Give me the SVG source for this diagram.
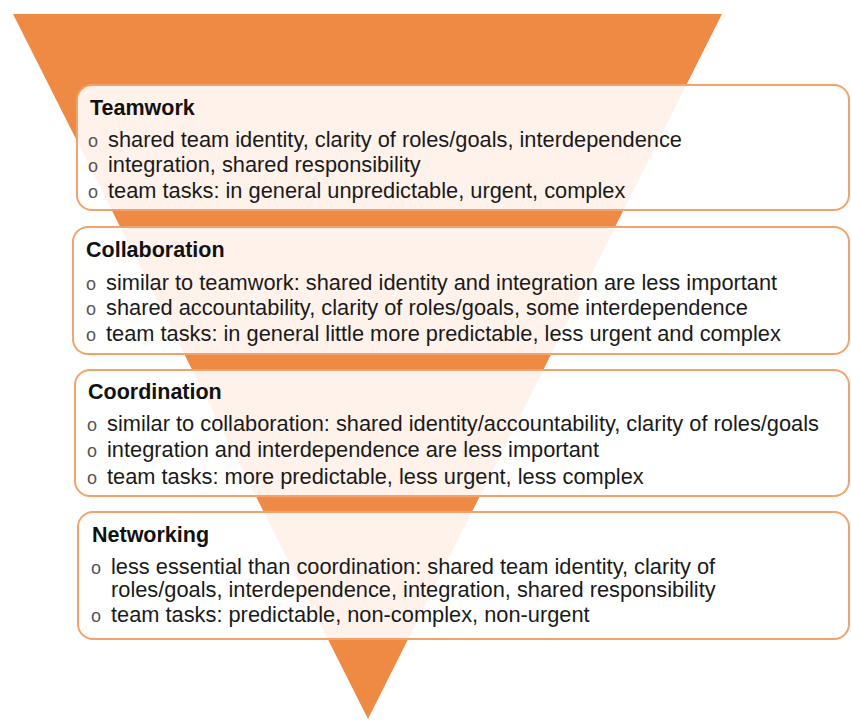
<svg xmlns="http://www.w3.org/2000/svg" width="851" height="720" viewBox="0 0 851 720">
<style>
.box{fill:#fff;fill-opacity:0.89;stroke:#f4a26b;stroke-width:2}
.t{font-family:"Liberation Sans",Arial,sans-serif;font-size:21.5px;font-weight:bold;fill:#111}
.b{font-family:"Liberation Sans",Arial,sans-serif;font-size:21.8px;fill:#1a1a1a}
.o{font-family:"Liberation Sans",Arial,sans-serif;font-size:18px;fill:#555}
</style>
<rect width="851" height="720" fill="#fff"/>
<polygon id="funnel" points="13,14 722,14 368,719" fill="#ef8a45"/>
<g id="teamwork">
<rect class="box" x="77" y="85" width="772" height="125" rx="15"/>
<text class="t" x="90" y="115">Teamwork</text>
<text class="o" x="88" y="147">o</text><text class="b" x="108" y="147">shared team identity, clarity of roles/goals, interdependence</text>
<text class="o" x="88" y="172">o</text><text class="b" x="108" y="172">integration, shared responsibility</text>
<text class="o" x="88" y="198">o</text><text class="b" x="108" y="198">team tasks: in general unpredictable, urgent, complex</text>
</g>
<g id="collaboration">
<rect class="box" x="73" y="227" width="776" height="127" rx="15"/>
<text class="t" x="86" y="257">Collaboration</text>
<text class="o" x="86" y="290">o</text><text class="b" x="106" y="290">similar to teamwork: shared identity and integration are less important</text>
<text class="o" x="86" y="315">o</text><text class="b" x="106" y="315">shared accountability, clarity of roles/goals, some interdependence</text>
<text class="o" x="86" y="341">o</text><text class="b" x="106" y="341">team tasks: in general little more predictable, less urgent and complex</text>
</g>
<g id="coordination">
<rect class="box" x="75" y="370" width="774" height="126" rx="15"/>
<text class="t" x="88" y="399">Coordination</text>
<text class="o" x="87" y="431">o</text><text class="b" x="107" y="431">similar to collaboration: shared identity/accountability, clarity of roles/goals</text>
<text class="o" x="87" y="457">o</text><text class="b" x="107" y="457">integration and interdependence are less important</text>
<text class="o" x="87" y="484">o</text><text class="b" x="107" y="484">team tasks: more predictable, less urgent, less complex</text>
</g>
<g id="networking">
<rect class="box" x="78" y="512" width="771" height="127" rx="15"/>
<text class="t" x="92" y="542">Networking</text>
<text class="o" x="91" y="574">o</text><text class="b" x="111" y="574">less essential than coordination: shared team identity, clarity of</text>
<text class="b" x="111" y="597">roles/goals, interdependence, integration, shared responsibility</text>
<text class="o" x="91" y="622">o</text><text class="b" x="111" y="622">team tasks: predictable, non-complex, non-urgent</text>
</g>
<g id="connectors"/>
</svg>
